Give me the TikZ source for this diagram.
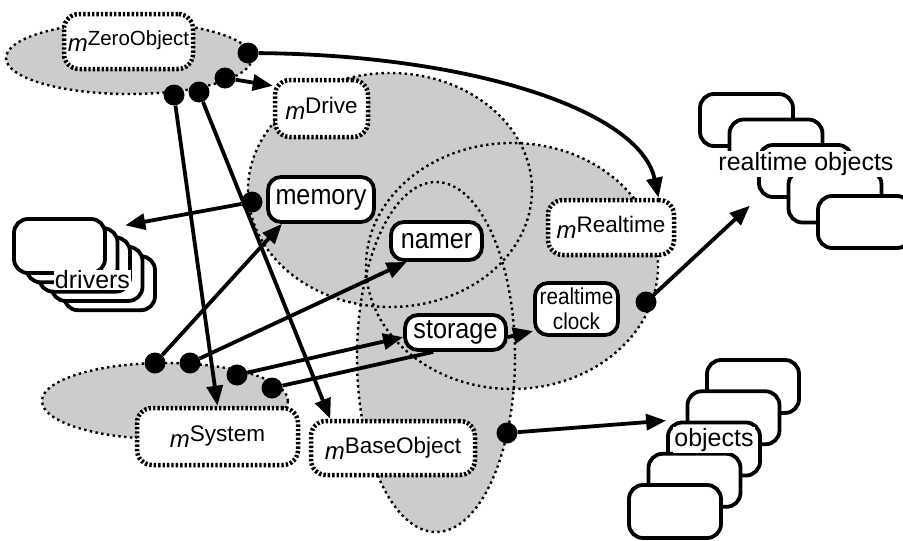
\documentclass[tikz,border=0pt]{standalone}
\usepackage{fontspec}
\setmainfont{Liberation Sans}
\newfontfamily\narrowfont[FakeStretch=0.9]{Liberation Sans}
\usetikzlibrary{arrows.meta}

\definecolor{areagray}{gray}{0.8}
\newcommand{\modname}[1]{\textit{\fontsize{24}{26}\selectfont m}\raisebox{6pt}{#1}}

\pgfdeclarelayer{areas}
\pgfdeclarelayer{links}
\pgfsetlayers{areas,links,main}

\tikzset{
  arealine/.style={line width=2.4pt, dash pattern=on 2.4pt off 3.4pt},
  module/.style={draw, rounded corners=15pt, line width=4.5pt, dash pattern=on 2.4pt off 2pt,
    fill=white, inner sep=0pt, font=\fontsize{22.5}{26}\selectfont},
  part/.style={draw, rounded corners=13pt, line width=3.8pt, fill=white, inner sep=0pt,
    font=\narrowfont\fontsize{28}{30}\selectfont},
  stackbox/.style={draw, rounded corners=14pt, line width=3.8pt, fill=white, inner sep=0pt},
  stacklabel/.style={fill=white, inner sep=1pt, font=\fontsize{25}{28}\selectfont},
  dot/.style={circle, fill=black, inner sep=0pt, minimum size=21pt},
  conn/.style={line width=3.8pt, -{Triangle[length=20pt,width=16pt]}}
}

\begin{document}
\begin{tikzpicture}[x=1pt, y=-1pt]
  \useasboundingbox (0,0) rectangle (903,541);

  % Areas
  \begin{pgfonlayer}{areas}
    \fill[areagray] (129,58) ellipse [x radius=123, y radius=36];
    \fill[areagray] (390,190) ellipse [x radius=142, y radius=117];
    \fill[areagray] (512,266) ellipse [x radius=146, y radius=123];
    \fill[areagray] (436,357) ellipse [x radius=79, y radius=175];
    \fill[areagray] (165,401) ellipse [x radius=123, y radius=38];
    \draw[arealine] (129,58) ellipse [x radius=123, y radius=36];
    \draw[arealine] (390,190) ellipse [x radius=142, y radius=117];
    \draw[arealine] (512,266) ellipse [x radius=146, y radius=123];
    \draw[arealine] (436,357) ellipse [x radius=79, y radius=175];
    \draw[arealine] (165,401) ellipse [x radius=123, y radius=38];
  \end{pgfonlayer}

  % Modules
  \node[module, minimum width=129pt, minimum height=55pt, font=\fontsize{20.5}{24}\selectfont] (zeroObj) at (128.5,41.5) {\modname{ZeroObject}};
  \node[module, minimum width=93pt, minimum height=57pt] (drive) at (321.5,108.5) {\modname{Drive}};
  \node[module, minimum width=126pt, minimum height=55pt] (realtime) at (611,227.5) {\modname{Realtime}};
  \node[module, minimum width=161pt, minimum height=57pt] (system) at (217.5,436.5) {\modname{System}};
  \node[module, minimum width=164pt, minimum height=54pt] (base) at (393,448) {\modname{BaseObject}};

  % Parts
  \node[part, minimum width=106pt, minimum height=45pt] (memory) at (321,199.5) {memory};
  \node[part, minimum width=91pt, minimum height=38pt] (namer) at (436.5,241) {namer};
  \node[part, minimum width=101pt, minimum height=35pt] (storage) at (455.5,332.5) {storage};
  \node[part, minimum width=83pt, minimum height=52pt, align=center,
    font=\narrowfont\fontsize{23}{24.5}\selectfont] (clock) at (576.5,309) {realtime\\clock};

  % drivers stack
  \node[stackbox, minimum width=91pt, minimum height=54pt] (drv5) at (109.5,283.2) {};
  \node[stackbox, minimum width=91pt, minimum height=54pt] (drv4) at (97,273.9) {};
  \node[stackbox, minimum width=91pt, minimum height=54pt] (drv3) at (84.5,264.6) {};
  \node[stackbox, minimum width=91pt, minimum height=54pt] (drv2) at (72,255.3) {};
  \node[stackbox, minimum width=91pt, minimum height=54pt] (drv1) at (59.5,246) {};
  \node[stacklabel] (drvText) at (92.5,280) {drivers};

  % realtime objects stack
  \node[stackbox, minimum width=93pt, minimum height=52pt] (rto1) at (746.5,120) {};
  \node[stackbox, minimum width=93pt, minimum height=52pt] (rto2) at (776,145.5) {};
  \node[stackbox, minimum width=93pt, minimum height=52pt] (rto3) at (805.5,171) {};
  \node[stackbox, minimum width=93pt, minimum height=52pt] (rto4) at (835,196.5) {};
  \node[stackbox, minimum width=93pt, minimum height=52pt] (rto5) at (864.5,222) {};
  \node[stacklabel] (rtoText) at (806,164) {realtime objects};

  % objects stack
  \node[stackbox, minimum width=92pt, minimum height=53pt] (obj1) at (753,386.5) {};
  \node[stackbox, minimum width=92pt, minimum height=53pt] (obj2) at (733.5,417.8) {};
  \node[stackbox, minimum width=92pt, minimum height=53pt] (obj3) at (714,449) {};
  \node[stackbox, minimum width=92pt, minimum height=53pt] (obj4) at (694.5,480.3) {};
  \node[stackbox, minimum width=92pt, minimum height=53pt] (obj5) at (675,511.5) {};
  \node[stacklabel] (objText) at (714,440) {objects};

  % Dots
  \node[dot] (zo1) at (248,53) {};
  \node[dot] (zo2) at (225,78) {};
  \node[dot] (zo3) at (199,92) {};
  \node[dot] (zo4) at (174,95) {};
  \node[dot] (dr1) at (252,202) {};
  \node[dot] (sy1) at (155,363) {};
  \node[dot] (sy2) at (190,363) {};
  \node[dot] (sy3) at (237,375) {};
  \node[dot] (sy4) at (272,388) {};
  \node[dot] (rt1) at (646,302) {};
  \node[dot] (bo1) at (507,433) {};

  % Connectors
  \begin{pgfonlayer}{links}
    \draw[conn] (zo1) .. controls (470,55) and (640,110) .. (realtime.32);
    \draw[conn] (zo2) -- (drive.155);
    \draw[conn] (zo3) -- (base.155);
    \draw[conn] (zo4) -- (system.north);
    \draw[conn, shorten >=6pt] (dr1) -- (drv2.north east);
    \draw[conn] (sy1) -- (memory.212);
    \draw[conn] (sy2) -- (namer.215);
    \draw[conn] (sy3) -- (storage.185);
    \draw[line width=3.8pt] (sy4) -- (storage.221);
    \draw[conn] (storage.-5) -- (clock.207);
    \draw[conn, shorten >=10pt] (rt1) -- (rto3.south west);
    \draw[conn] (bo1) -- (obj3.north west);
  \end{pgfonlayer}
\end{tikzpicture}
\end{document}
